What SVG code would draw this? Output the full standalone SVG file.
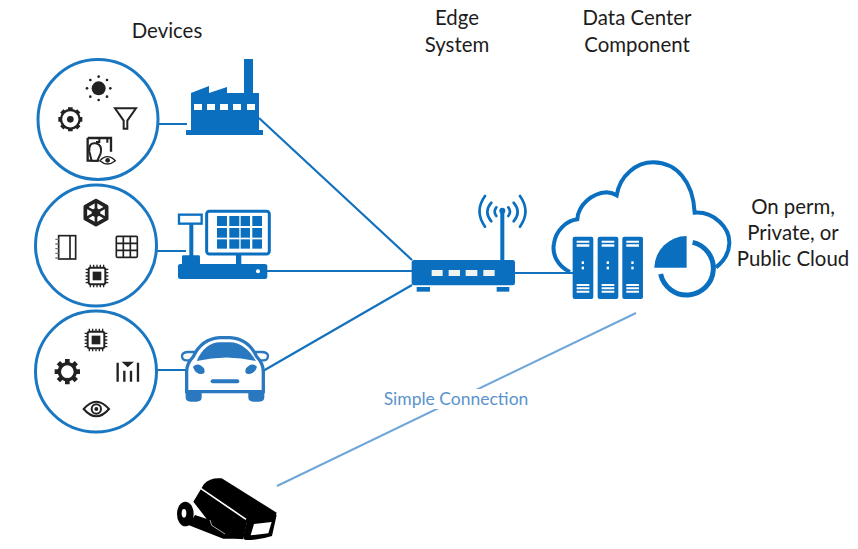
<svg xmlns="http://www.w3.org/2000/svg" xmlns:xlink="http://www.w3.org/1999/xlink" width="858" height="549" viewBox="0 0 858 549">
<style>
.t{font-family:"Lato","Open Sans","Liberation Sans",sans-serif;font-size:20.4px;fill:#1c1c1c;text-anchor:middle}
.c{fill:#fff;stroke:#1a78c2;stroke-width:3}
.l{fill:none;stroke:#1471bd;stroke-width:2.2}
.b{fill:#0b6fc0}
.w{fill:#fff}
.k{fill:#222}
.bs{fill:none;stroke:#0b6fc0}
</style>
<defs>
<g id="chip">
<rect x="-25" y="-25" width="50" height="50" rx="6" fill="#fff" stroke="#222" stroke-width="6"/>
<rect x="-13" y="-13" width="26" height="26" fill="#222"/>
<path d="M-20-34V-26M-10-34V-26M0-34V-26M10-34V-26M20-34V-26M-20 26V34M-10 26V34M0 26V34M10 26V34M20 26V34M-34-20H-26M-34-10H-26M-34 0H-26M-34 10H-26M-34 20H-26M26-20H34M26-10H34M26 0H34M26 10H34M26 20H34" stroke="#222" stroke-width="4" fill="none"/>
</g>
<g id="gear">
<circle r="24" fill="none" stroke="#222" stroke-width="10"/>
<path d="M-7-38H7V-26H-7ZM-7 26H7V38H-7ZM-38-7V7H-26V-7ZM26-7V7H38V-7Z" fill="#222"/>
<path d="M-7-38H7V-26H-7ZM-7 26H7V38H-7ZM-38-7V7H-26V-7ZM26-7V7H38V-7Z" fill="#222" transform="rotate(45)"/>
</g>
<g id="eye">
<path d="M-38 0Q0-44 38 0Q0 44-38 0Z" fill="#fff" stroke="#222" stroke-width="6"/>
<circle r="14" fill="#fff" stroke="#222" stroke-width="6"/>
</g>
<g id="server">
<rect width="62" height="187" rx="6" class="b"/>
<path d="M12 12H50V18H12ZM12 23H50V30H12ZM12 142H50V148H12ZM12 152H50V158H12ZM12 162H50V168H12Z" class="w"/>
<rect x="27" y="74" width="7" height="8" class="w"/><rect x="27" y="90" width="7" height="8" class="w"/>
</g>
</defs>

<rect width="858" height="549" fill="#fff"/>

<g id="connectors">
<path class="l" d="M158 124H187M259 118L412 260M157 251H186M267 271H412M157 370H186M263 371L412 285M515 273H577"/>
<path d="M277 486L636 313" fill="none" stroke="#6ea6da" stroke-width="2"/>
</g>

<g id="label-simple">
<rect x="382" y="389" width="148" height="20" fill="#fff"/>
<text x="456" y="405" class="t" style="font-size:17.5px;fill:#5b93cc">Simple Connection</text>
</g>

<g id="title-devices"><text x="167" y="38" class="t">Devices</text></g>
<g id="title-edge"><text x="457" y="25" class="t">Edge</text><text x="457" y="52" class="t">System</text></g>
<g id="title-dc"><text x="637" y="25" class="t">Data Center</text><text x="637" y="52" class="t">Component</text></g>
<g id="title-cloud"><text x="793" y="214" class="t">On perm,</text><text x="793" y="240" class="t">Private, or</text><text x="793" y="266" class="t">Public Cloud</text></g>

<g id="device-group-1">
<circle class="c" cx="98" cy="119.5" r="60"/>
<g transform="translate(20,50) scale(.3333)">
<circle cx="236" cy="115" r="21" class="k"/>
<g class="k"><circle cx="236" cy="80" r="4"/><circle cx="236" cy="150" r="4"/><circle cx="201" cy="115" r="4"/><circle cx="271" cy="115" r="4"/><circle cx="211" cy="90" r="4"/><circle cx="261" cy="90" r="4"/><circle cx="211" cy="140" r="4"/><circle cx="261" cy="140" r="4"/></g>
<circle cx="151" cy="208" r="28" fill="none" stroke="#222" stroke-width="7"/>
<path d="M144 172H158V182H144ZM144 234H158V244H144ZM115 201V215H125V201ZM177 201V215H187V201Z" class="k"/>
<path d="M144 172H158V182H144ZM144 234H158V244H144ZM115 201V215H125V201ZM177 201V215H187V201Z" class="k" transform="rotate(45 151 208)"/>
<circle cx="151" cy="208" r="10" class="k"/>
<path d="M285 175H348L322 212V236H311V212Z" fill="none" stroke="#222" stroke-width="6"/>
<path d="M203 264H273V305M203 264V332H238" fill="none" stroke="#222" stroke-width="7"/>
<path d="M238 264V276H228M262 264V278" fill="none" stroke="#222" stroke-width="6"/>
<path d="M215 332L208 305Q206 276 228 280Q248 285 242 310L232 332Z" fill="#fff" stroke="#222" stroke-width="6"/>
<path d="M240 332Q262 308 286 332Q262 352 240 332Z" fill="#fff" stroke="#222" stroke-width="4"/>
<circle cx="263" cy="331" r="7" class="k"/>
</g>
</g>

<g id="factory">
<path class="b" d="M191 93L209 86V93L227 87V93H244V59H253V93H259V130H263V135H186V130H191Z"/>
<g class="w"><rect x="194" y="104" width="8" height="6"/><rect x="207" y="104" width="8" height="6"/><rect x="220" y="104" width="8" height="6"/><rect x="233" y="104" width="8" height="6"/><rect x="247" y="104" width="8" height="6"/></g>
</g>

<g id="device-group-2">
<circle class="c" cx="96" cy="245.5" r="60.5"/>
<g transform="translate(20,180) scale(.3333)">
<path d="M228 62L260 80V116L228 134L196 116V80Z" fill="none" stroke="#222" stroke-width="11" stroke-linejoin="round"/>
<path d="M228 62V134M196 80L260 116M260 80L196 116" stroke="#222" stroke-width="8"/>
<circle cx="228" cy="98" r="13" class="k"/>
<rect x="116" y="167" width="51" height="70" fill="none" stroke="#222" stroke-width="5"/>
<path d="M150 167V237" stroke="#222" stroke-width="5"/>
<path d="M106 178H116M106 192H116M106 206H116M106 220H116M106 234H116" stroke="#777" stroke-width="4"/>
<rect x="289" y="169" width="63" height="63" rx="3" fill="none" stroke="#222" stroke-width="5"/>
<path d="M310 169V232M331 169V232M289 190H352M289 211H352" stroke="#222" stroke-width="5"/>
<use href="#chip" x="231" y="288"/>
</g>
</g>

<g id="pos">
<g transform="translate(20,180) scale(.3333)">
<rect x="477" y="104" width="68" height="27" fill="#fff" stroke="#0b6fc0" stroke-width="7"/>
<rect x="508" y="131" width="12" height="100" class="b"/>
<rect x="486" y="226" width="54" height="30" rx="4" class="b"/>
<rect x="474" y="252" width="268" height="45" rx="7" class="b"/>
<circle cx="714" cy="274" r="6" class="w"/>
<rect x="648" y="224" width="16" height="30" class="b"/>
<rect x="560" y="94" width="188" height="128" rx="8" fill="#fff" stroke="#0b6fc0" stroke-width="9"/>
<g class="b">
<rect x="591" y="108" width="30" height="30"/><rect x="628" y="108" width="30" height="30"/><rect x="662" y="108" width="28" height="30"/><rect x="697" y="108" width="29" height="30"/>
<rect x="591" y="144" width="30" height="29"/><rect x="628" y="144" width="30" height="29"/><rect x="662" y="144" width="28" height="29"/><rect x="697" y="144" width="29" height="29"/>
<rect x="591" y="178" width="30" height="28"/><rect x="628" y="178" width="30" height="28"/><rect x="662" y="178" width="28" height="28"/><rect x="697" y="178" width="29" height="28"/>
</g>
</g>
</g>

<g id="device-group-3">
<circle class="c" cx="96" cy="371.5" r="60.5"/>
<g transform="translate(20,180) scale(.3333)">
<use href="#chip" x="228" y="480"/>
<use href="#gear" x="142" y="575"/>
<path d="M305 545H342L323 562Z" class="k"/>
<path d="M293 548V605M313 572V605M333 572V605M354 548V605" fill="none" stroke="#222" stroke-width="7"/>
<use href="#eye" x="229" y="687"/>
<circle cx="229" cy="687" r="6" class="k"/>
</g>
</g>

<g id="car">
<g transform="translate(20,180) scale(.3333)">
<path d="M497 630H545V652Q545 665 530 665H512Q497 665 497 652ZM685 630H733V652Q733 665 718 665H700Q685 665 685 652Z" fill="#2a78bf"/>
<path d="M486 527Q488 516 505 516H526L518 541H500Q486 541 486 527ZM744 527Q742 516 725 516H704L712 541H730Q744 541 744 527Z" fill="#fff" stroke="#2a78bf" stroke-width="7"/>
<path d="M500 635V575Q500 550 520 530Q545 476 600 473H630Q685 476 710 530Q730 550 730 575V635Z" fill="#fff" stroke="#2a78bf" stroke-width="10"/>
<path d="M530 543Q555 488 600 487H630Q675 488 708 543Q620 522 530 543Z" fill="#2a78bf"/>
<path d="M519 560Q535 545 552 565Q558 582 545 582Q525 582 519 560ZM711 560Q695 545 678 565Q672 582 685 582Q705 582 711 560Z" fill="#2a78bf"/>
<rect x="572" y="598" width="86" height="12" rx="6" fill="#2a78bf"/>
</g>
</g>

<g id="edge-router">
<g transform="translate(400,150) scale(.3333)">
<rect x="301" y="182" width="12" height="150" class="b"/>
<circle cx="307" cy="182" r="9" class="b"/>
<g class="bs" stroke-width="8" stroke-linecap="round">
<path d="M255 138Q222 184 255 230M360 138Q393 184 360 230M274 158Q250 186 274 214M341 158Q365 186 341 214M289 172Q279 185 289 198M325 172Q335 185 325 198"/>
</g>
<rect x="35" y="330" width="310" height="76" rx="7" class="b"/>
<g fill="#f1f3ee"><rect x="95" y="360" width="33" height="18"/><rect x="146" y="360" width="34" height="18"/><rect x="197" y="360" width="35" height="18"/><rect x="250" y="360" width="34" height="18"/></g>
<rect x="50" y="411" width="40" height="14" class="b"/><rect x="290" y="411" width="38" height="14" class="b"/>
</g>
</g>

<g id="data-center">
<g transform="translate(400,150) scale(.3333)">
<path d="M510 366C475 350 455 315 462 280C468 240 500 212 532 208C535 165 575 130 620 127C632 128 642 131 650 136C660 75 710 37 760 37C830 38 880 95 884 188C945 185 990 235 988 280C987 310 970 335 948 352" fill="#fff" stroke="#0b6fc0" stroke-width="12"/>
<use href="#server" x="518" y="260"/>
<use href="#server" x="593" y="260"/>
<use href="#server" x="667" y="260"/>
<path d="M860 258A97 97 0 0 0 763 353H860Z" class="b"/>
<path d="M878 277A80 80 0 1 1 782 372" fill="none" stroke="#0b6fc0" stroke-width="15"/>
</g>
</g>

<g id="camera">
<g transform="translate(160,460) scale(.3333)">
<path d="M100 125L132 72Q150 52 185 55L350 158L346 172L262 180L250 238L230 236L150 190Z" fill="#000"/>
<path d="M122 85L258 178" stroke="#fff" stroke-width="5" fill="none"/>
<path d="M262 178L350 165L336 228Q300 240 258 240Q248 240 252 222Z" fill="#000"/>
<path d="M282 192L335 186L325 220L272 226Z" fill="#fff"/>
<ellipse cx="76" cy="162" rx="25" ry="37" fill="#000"/>
<ellipse cx="72" cy="160" rx="7" ry="13" fill="#fff"/>
<path d="M85 195L190 236L235 236L150 180L105 165Z" fill="#000"/>
<path d="M150 180L155 196L195 222" stroke="#fff" stroke-width="2" fill="none"/>
</g>
</g>
</svg>
